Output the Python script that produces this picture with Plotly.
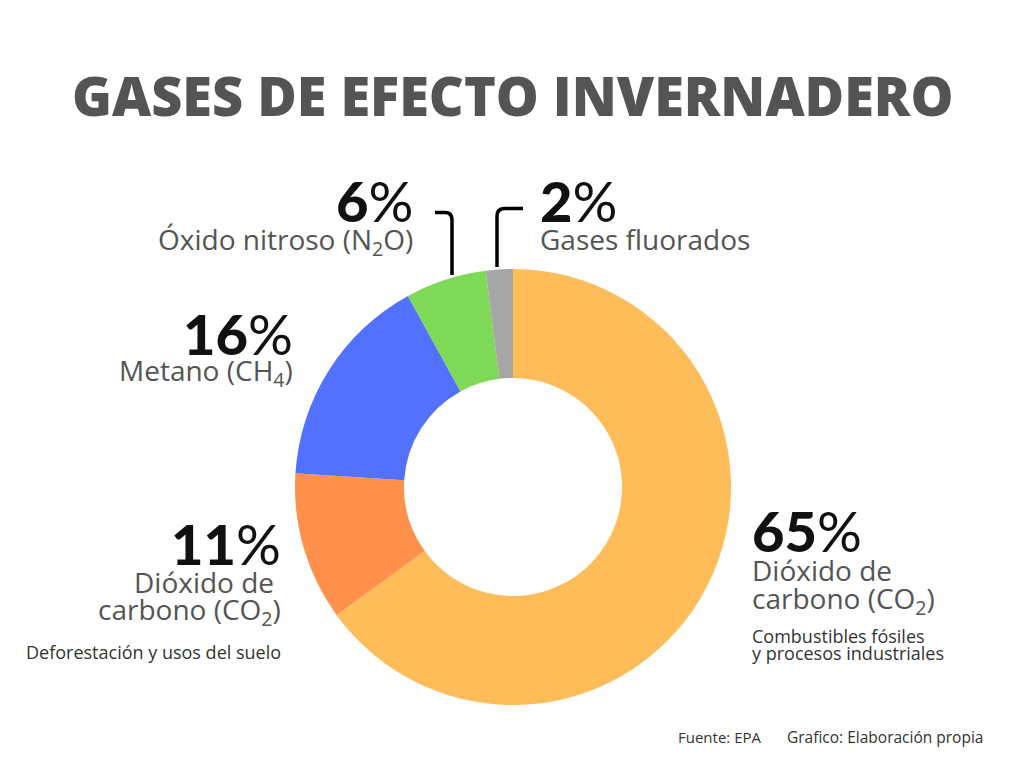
import plotly.graph_objects as go

# donut data, clockwise from 12 o'clock
gases = ["CO2 combustibles fósiles", "CO2 deforestación", "Metano", "Óxido nitroso", "Gases fluorados"]
shares = [65, 11, 16, 6, 2]
colors = ["#FFBD59", "#FF914D", "#5271FF", "#7ED957", "#A6A6A6"]

# label texts for each slice
names = [
    ["Dióxido de", "carbono (CO<sub>2</sub>)"],
    ["Dióxido de ", "carbono (CO<sub>2</sub>)"],
    ["Metano (CH<sub>4</sub>)"],
    ["Óxido nitroso (N<sub>2</sub>O)"],
    ["Gases fluorados"],
]
notes = [
    ["Combustibles fósiles", "y procesos industriales"],
    ["Deforestación y usos del suelo"],
    [], [], [],
]

title = "GASES DE EFECTO INVERNADERO"
footer = ["Fuente: EPA", "Grafico: Elaboración propia"]

# page has an 8px body margin, so the figure is a bit smaller and the
# helper axes are shifted to work in page pixels
PAD = 8
W, H = 1024 - 2 * PAD, 768 - 2 * PAD
GRAY = "#545454"

# donut box in page pixels
left, right, top, bottom = 295, 731, 269, 705

fig = go.Figure()
fig.add_trace(go.Pie(
    labels=gases, values=shares, sort=False, direction="clockwise", rotation=0,
    hole=0.5, marker=dict(colors=colors, line=dict(width=0)),
    textinfo="none", hoverinfo="label+percent", showlegend=False,
    domain=dict(x=[(left - PAD) / W, (right - PAD) / W],
                y=[1 - (bottom - PAD) / H, 1 - (top - PAD) / H]),
))

# invisible pixel-space axes for the annotations
fig.add_trace(go.Scatter(x=[PAD, W + PAD], y=[PAD, H + PAD], mode="markers",
                         marker=dict(opacity=0), hoverinfo="skip", showlegend=False))


def pct(v):
    return f"<span style='font-weight:900'>{v}</span>%"


# (x, y of percentage, anchor) per slice
spots = [(750, 530, "left"), (283, 543, "right"), (295, 333, "right"),
         (415, 200, "right"), (538, 200, "left")]
name_y = [[570, 600], [582, 611], [372], [241], [239]]
note_y = [[636, 653], [652], [], [], []]

ann = []
for i, (x, y, anc) in enumerate(spots):
    ann.append(dict(x=x, y=y, text=pct(shares[i]), xanchor=anc, yanchor="middle",
                    font=dict(family="Lato", size=56, color="#111111")))
    for t, ty in zip(names[i], name_y[i]):
        ann.append(dict(x=x, y=ty, text=t, xanchor=anc, yanchor="middle",
                        font=dict(family="Open Sans", size=28, color=GRAY)))
    for t, ty in zip(notes[i], note_y[i]):
        ann.append(dict(x=x, y=ty, text=t, xanchor=anc, yanchor="middle",
                        font=dict(family="Open Sans", size=18, color="#333333")))

ann.append(dict(x=512, y=95, text=title, xanchor="center", yanchor="middle",
                font=dict(family="Open Sans", size=54, color=GRAY, weight=800)))
ann.append(dict(x=676, y=737, text=footer[0], xanchor="left", yanchor="middle",
                font=dict(family="Open Sans", size=15, color="#333333")))
ann.append(dict(x=785, y=737, text=footer[1], xanchor="left", yanchor="middle",
                font=dict(family="Open Sans", size=15.5, color="#333333")))
for a in ann:
    a.update(xref="x", yref="y", showarrow=False)

fig.update_layout(
    width=W, height=H, margin=dict(l=0, r=0, t=0, b=0),
    paper_bgcolor="white", plot_bgcolor="rgba(0,0,0,0)",
    xaxis=dict(range=[PAD, W + PAD], visible=False, fixedrange=True),
    yaxis=dict(range=[H + PAD, PAD], visible=False, fixedrange=True),
    annotations=ann,
    shapes=[
        dict(type="path", xref="x", yref="y", path="M 435 212.5 L 445 212.5 Q 452 212.5 452 220 L 452 275",
             line=dict(color="black", width=3.5)),
        dict(type="path", xref="x", yref="y", path="M 497 267 L 497 216 Q 497 208.5 505 208.5 L 523 208.5",
             line=dict(color="black", width=3.5)),
    ],
)

fig.write_html("out.html")
